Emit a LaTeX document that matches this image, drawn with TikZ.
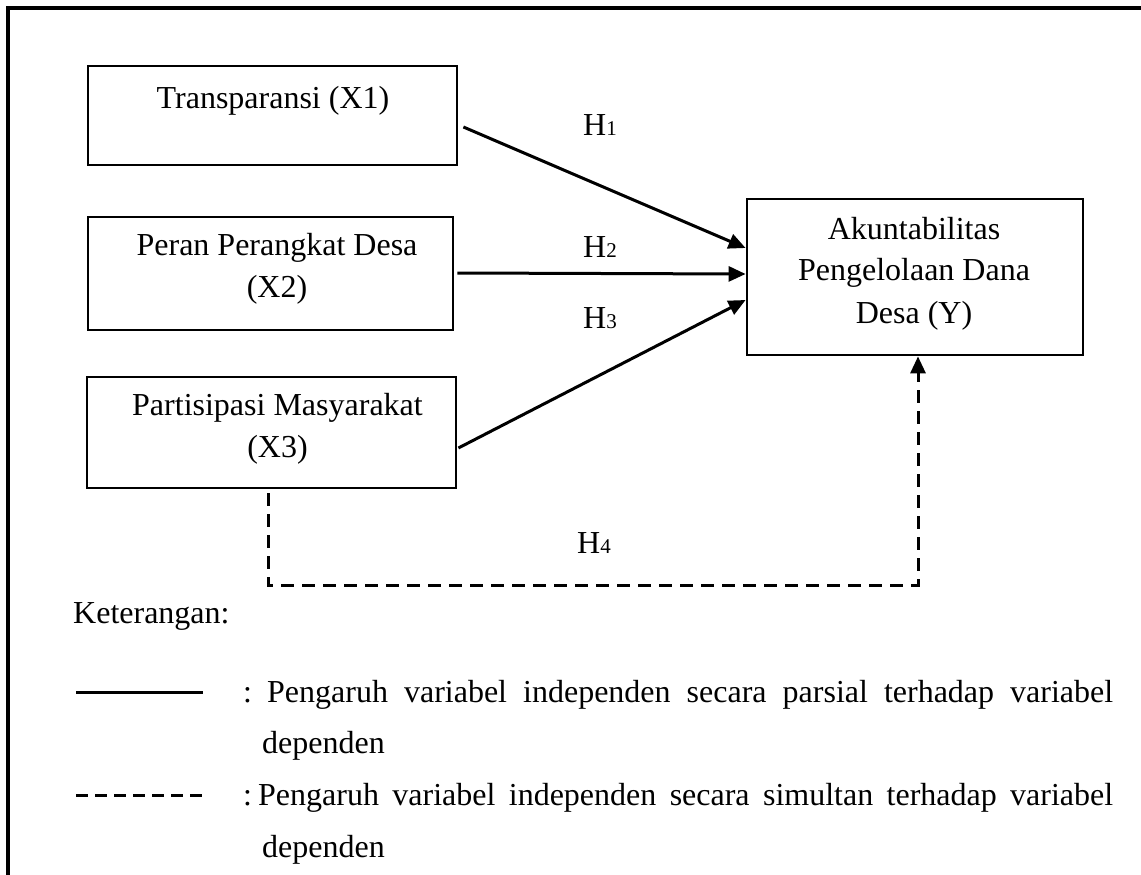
\documentclass[tikz,border=0pt]{standalone}
\usepackage{fontspec}
\setmainfont{Liberation Serif}
\usetikzlibrary{arrows.meta}
\tikzset{
  varbox/.style={draw, line width=2.8pt, inner sep=0pt, minimum width=#1},
  txt/.style={anchor=base, inner sep=0pt},
  partial/.style={line width=3pt, -{Triangle[length=17pt,width=15pt]}},
  simul/.style={line width=3pt, dash pattern=on 13pt off 8pt, -{Triangle[length=17pt,width=15pt]}},
  hlab/.style={anchor=base west, inner sep=0pt},
}
\newcommand{\hsub}[1]{H{\fontsize{21}{21}\selectfont #1}}
\begin{document}
\begin{tikzpicture}[x=1pt,y=-1pt,font=\fontsize{32}{42}\selectfont]
\useasboundingbox (0,0) rectangle (1141,875);
% frame
\draw[line width=3.2pt] (8,876) -- (8,8) -- (1142,8);
% boxes
\node[varbox=369pt, minimum height=99pt] (x1) at (272.5,115.5) {};
\node[varbox=365pt, minimum height=113pt] (x2) at (270.5,273.5) {};
\node[varbox=369pt, minimum height=111pt] (x3) at (271.5,432.5) {};
\node[varbox=336pt, minimum height=156pt] (y) at (915,277) {};
% box texts
\node[txt] (x1t) at (273,108) {Transparansi (X1)};
\node[txt] (x2t) at (277,255) {Peran Perangkat Desa};
\node[txt] (x2u) at (277,297) {(X2)};
\node[txt] (x3t) at (277.5,415) {Partisipasi Masyarakat};
\node[txt] (x3u) at (277.5,457) {(X3)};
\node[txt] (yt) at (914,239) {Akuntabilitas};
\node[txt] (yu) at (914,280) {Pengelolaan Dana};
\node[txt] (yv) at (914,323) {Desa (Y)};
% partial arrows
\draw[partial] ([shift={(5,11.5)}]x1.east) -- ([shift={(0,-29)}]y.west);
\draw[partial] ([shift={(3,-0.5)}]x2.east) -- ([shift={(0,-3)}]y.west);
\draw[partial] ([shift={(1,15.5)}]x3.east) -- ([shift={(0,23)}]y.west);
% labels
\node[hlab] (h1) at (583,135) {\hsub{1}};
\node[hlab] (h2) at (583,257) {\hsub{2}};
\node[hlab] (h3) at (583,328) {\hsub{3}};
\node[hlab] (h4) at (577,553) {\hsub{4}};
% simultaneous
\coordinate (d1) at (268,585);
\coordinate (d2) at (918,585);
\draw[simul] ([yshift=-4pt]x3.south -| d1) -- (d1) -- (d2) -- (d2 |- y.south);
% legend
\node[anchor=base west, inner sep=0pt] (ket) at (73,623) {Keterangan:};
\coordinate (l1a) at (76,692);
\coordinate (l1b) at (203,692);
\draw[line width=3pt] (l1a) -- (l1b);
\node[anchor=base west, inner sep=0pt] (leg1c) at (243,702) {:};
\node[anchor=base west, inner sep=0pt] (leg1) at (267,702) {\makebox[846pt][s]{Pengaruh variabel independen secara parsial terhadap variabel}};
\node[anchor=base west, inner sep=0pt] (leg1b) at (262,753) {dependen};
\coordinate (l2a) at (76,795);
\coordinate (l2b) at (202,795);
\draw[line width=3pt, dash pattern=on 12pt off 7pt] (l2a) -- (l2b);
\node[anchor=base west, inner sep=0pt] (leg2c) at (243,805) {:};
\node[anchor=base west, inner sep=0pt] (leg2) at (258,805) {\makebox[855pt][s]{Pengaruh variabel independen secara simultan terhadap variabel}};
\node[anchor=base west, inner sep=0pt] (leg2b) at (262,857) {dependen};
\end{tikzpicture}
\end{document}
